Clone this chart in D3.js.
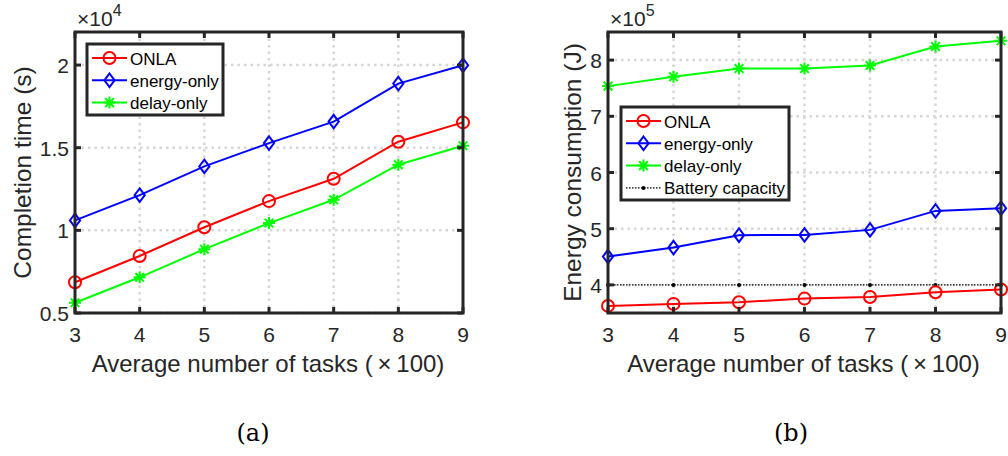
<!DOCTYPE html>
<html>
<head>
<meta charset="utf-8">
<script src="https://cdn.jsdelivr.net/npm/d3@7"></script>
<style>
  body { margin: 0; background: #fff; }
  svg { font-family: "Liberation Sans", Arial, sans-serif; }
</style>
</head>
<body>
<div id="container"></div>
<script>
const tasks = [3, 4, 5, 6, 7, 8, 9]

// completion time (x 1e4 s)
const timeONLA = [0.686, 0.845, 1.019, 1.177, 1.312, 1.536, 1.653]
const timeEnergy = [1.06, 1.213, 1.387, 1.528, 1.658, 1.888, 1.999]
const timeDelay = [0.562, 0.716, 0.886, 1.044, 1.185, 1.397, 1.512]
const timeTicks = [0.5, 1, 1.5, 2]

// energy consumption (x 1e5 J)
const energyONLA = [3.626, 3.662, 3.692, 3.756, 3.786, 3.87, 3.917]
const energyEnergy = [4.504, 4.664, 4.885, 4.89, 4.979, 5.317, 5.365]
const energyDelay = [7.537, 7.703, 7.85, 7.85, 7.904, 8.242, 8.343]
const battery = [4, 4, 4, 4, 4, 4, 4]
const energyTicks = [4, 5, 6, 7, 8]

const seriesNames = ["ONLA", "energy-only", "delay-only"]
const colors = ["#ff0000", "#0000ff", "#00ff00"]
const markers = ["circle", "diamond", "star"]

const width = 1008
const height = 456
const axisColor = "#262626"

const svg = d3.select("#container").append("svg")
    .attr("width", width)
    .attr("height", height)

function drawMarker(g, type, x, y, color){
    if(type === "circle"){
        g.append("circle").attr("cx", x).attr("cy", y).attr("r", 6)
            .attr("fill", "none").attr("stroke", color).attr("stroke-width", 2)
    } else if(type === "diamond"){
        const s = 6.8
        g.append("path")
            .attr("d", `M${x},${y-s}L${x+s*0.75},${y}L${x},${y+s}L${x-s*0.75},${y}Z`)
            .attr("fill", "none").attr("stroke", color).attr("stroke-width", 2)
    } else if(type === "star"){
        const s = 6
        let d = `M${x-s},${y}L${x+s},${y}M${x},${y-s}L${x},${y+s}`
        const k = s * 0.72
        d += `M${x-k},${y-k}L${x+k},${y+k}M${x-k},${y+k}L${x+k},${y-k}`
        g.append("path").attr("d", d).attr("stroke", color).attr("stroke-width", 2)
    } else if(type === "dot"){
        g.append("circle").attr("cx", x).attr("cy", y).attr("r", 2).attr("fill", "#000")
    }
}

function drawPanel(opt){
    const {left, right, top, bottom, yDomain, yTicks, series, yLabel, exponent, legend, caption} = opt
    const g = svg.append("g")

    const x = d3.scaleLinear().domain([3, 9]).range([left, right])
    const y = d3.scaleLinear().domain(yDomain).range([bottom, top])

    // grid
    const grid = g.append("g")
        .attr("stroke", "#d6d6d6")
        .attr("stroke-width", 2.5)
        .attr("stroke-dasharray", "2.5,4")
    grid.selectAll(".vx").data(tasks.slice(1, -1)).enter().append("line")
        .attr("x1", d => x(d)).attr("x2", d => x(d))
        .attr("y1", top).attr("y2", bottom)
    grid.selectAll(".hy").data(yTicks).enter().append("line")
        .attr("x1", left).attr("x2", right)
        .attr("y1", d => y(d)).attr("y2", d => y(d))

    // lines
    const line = d3.line().x((d, i) => x(tasks[i])).y(d => y(d))
    series.forEach(s => {
        g.append("path").datum(s.values)
            .attr("d", line)
            .attr("fill", "none")
            .attr("stroke", s.color)
            .attr("stroke-width", s.width || 2)
            .attr("stroke-dasharray", s.dash || null)
        const mg = g.append("g")
        s.values.forEach((v, i) => drawMarker(mg, s.marker, x(tasks[i]), y(v), s.color))
    })

    // box & ticks
    g.append("rect")
        .attr("x", left).attr("y", top)
        .attr("width", right - left).attr("height", bottom - top)
        .attr("fill", "none").attr("stroke", axisColor).attr("stroke-width", 3)
    const tl = 6
    const ticks = g.append("g").attr("stroke", axisColor).attr("stroke-width", 3)
    tasks.forEach(t => {
        ticks.append("line").attr("x1", x(t)).attr("x2", x(t)).attr("y1", bottom).attr("y2", bottom - tl)
        ticks.append("line").attr("x1", x(t)).attr("x2", x(t)).attr("y1", top).attr("y2", top + tl)
    })
    yTicks.forEach(t => {
        ticks.append("line").attr("x1", left).attr("x2", left + tl).attr("y1", y(t)).attr("y2", y(t))
        ticks.append("line").attr("x1", right).attr("x2", right - tl).attr("y1", y(t)).attr("y2", y(t))
    })

    // tick labels
    g.selectAll(".xt").data(tasks).enter().append("text")
        .attr("x", d => x(d)).attr("y", bottom + 29)
        .attr("text-anchor", "middle")
        .attr("font-size", 21).attr("fill", axisColor)
        .text(d => d)
    g.selectAll(".yt").data(yTicks).enter().append("text")
        .attr("x", left - 6).attr("y", d => y(d) + 8)
        .attr("text-anchor", "end")
        .attr("font-size", 21).attr("fill", axisColor)
        .text(d => d)

    // exponent
    const ex = g.append("text").attr("x", left + 2).attr("y", top - 6)
        .attr("font-size", 21).attr("fill", axisColor)
    ex.append("tspan").text("×10")
    ex.append("tspan").attr("dy", -10).attr("font-size", 16).text(exponent)

    // axis labels
    g.append("text")
        .attr("x", (left + right) / 2 - 1).attr("y", bottom + 59)
        .attr("text-anchor", "middle")
        .attr("font-size", 24).attr("fill", axisColor)
        .text("Average number of tasks (\u2009×\u2009100)")
    g.append("text")
        .attr("transform", `translate(${opt.yLabelX},${(top + bottom) / 2}) rotate(-90)`)
        .attr("text-anchor", "middle")
        .attr("font-size", 24.5).attr("fill", axisColor)
        .text(yLabel)

    // legend
    const lg = g.append("g")
    lg.append("rect")
        .attr("x", legend.x).attr("y", legend.y)
        .attr("width", legend.w).attr("height", legend.h)
        .attr("fill", "#fff").attr("stroke", axisColor).attr("stroke-width", 3)
    legend.items.forEach((s, i) => {
        const cy = legend.y + 14 + i * 22.3
        const x0 = legend.x + 5, x1 = legend.x + 40
        lg.append("line").attr("x1", x0).attr("x2", x1).attr("y1", cy).attr("y2", cy)
            .attr("stroke", s.color).attr("stroke-width", s.width || 2)
            .attr("stroke-dasharray", s.dash || null)
        drawMarker(lg, s.marker, (x0 + x1) / 2, cy, s.color)
        lg.append("text").attr("x", x1 + 3).attr("y", cy + 6.5)
            .attr("font-size", 17).attr("fill", "#000")
            .text(s.name)
    })

    // caption
    svg.append("text")
        .attr("x", opt.captionX).attr("y", 441)
        .attr("text-anchor", "middle")
        .attr("font-family", "DejaVu Serif, serif")
        .attr("font-size", 24).attr("fill", "#000")
        .text(caption)
}

const leftSeries = [timeONLA, timeEnergy, timeDelay].map((v, i) => ({
    name: seriesNames[i], values: v, color: colors[i], marker: markers[i]
}))
drawPanel({
    left: 75, right: 463, top: 32, bottom: 313,
    yDomain: [0.5, 2.2], yTicks: timeTicks,
    series: leftSeries, yLabel: "Completion time (s)", yLabelX: 31,
    exponent: "4",
    legend: {x: 87, y: 44, w: 136, h: 71, items: leftSeries},
    caption: "(a)", captionX: 253
})

const rightSeries = [energyONLA, energyEnergy, energyDelay].map((v, i) => ({
    name: seriesNames[i], values: v, color: colors[i], marker: markers[i]
}))
const batterySeries = {name: "Battery capacity", values: battery, color: "#000", marker: "dot", width: 1.2, dash: "1.5,1.5"}
drawPanel({
    left: 608, right: 1001, top: 32, bottom: 313,
    yDomain: [3.5, 8.5], yTicks: energyTicks,
    series: [batterySeries, ...rightSeries], yLabel: "Energy consumption (J)", yLabelX: 581,
    exponent: "5",
    legend: {x: 621, y: 107, w: 168, h: 93, items: [...rightSeries, batterySeries]},
    caption: "(b)", captionX: 791
})
</script>
</body>
</html>
